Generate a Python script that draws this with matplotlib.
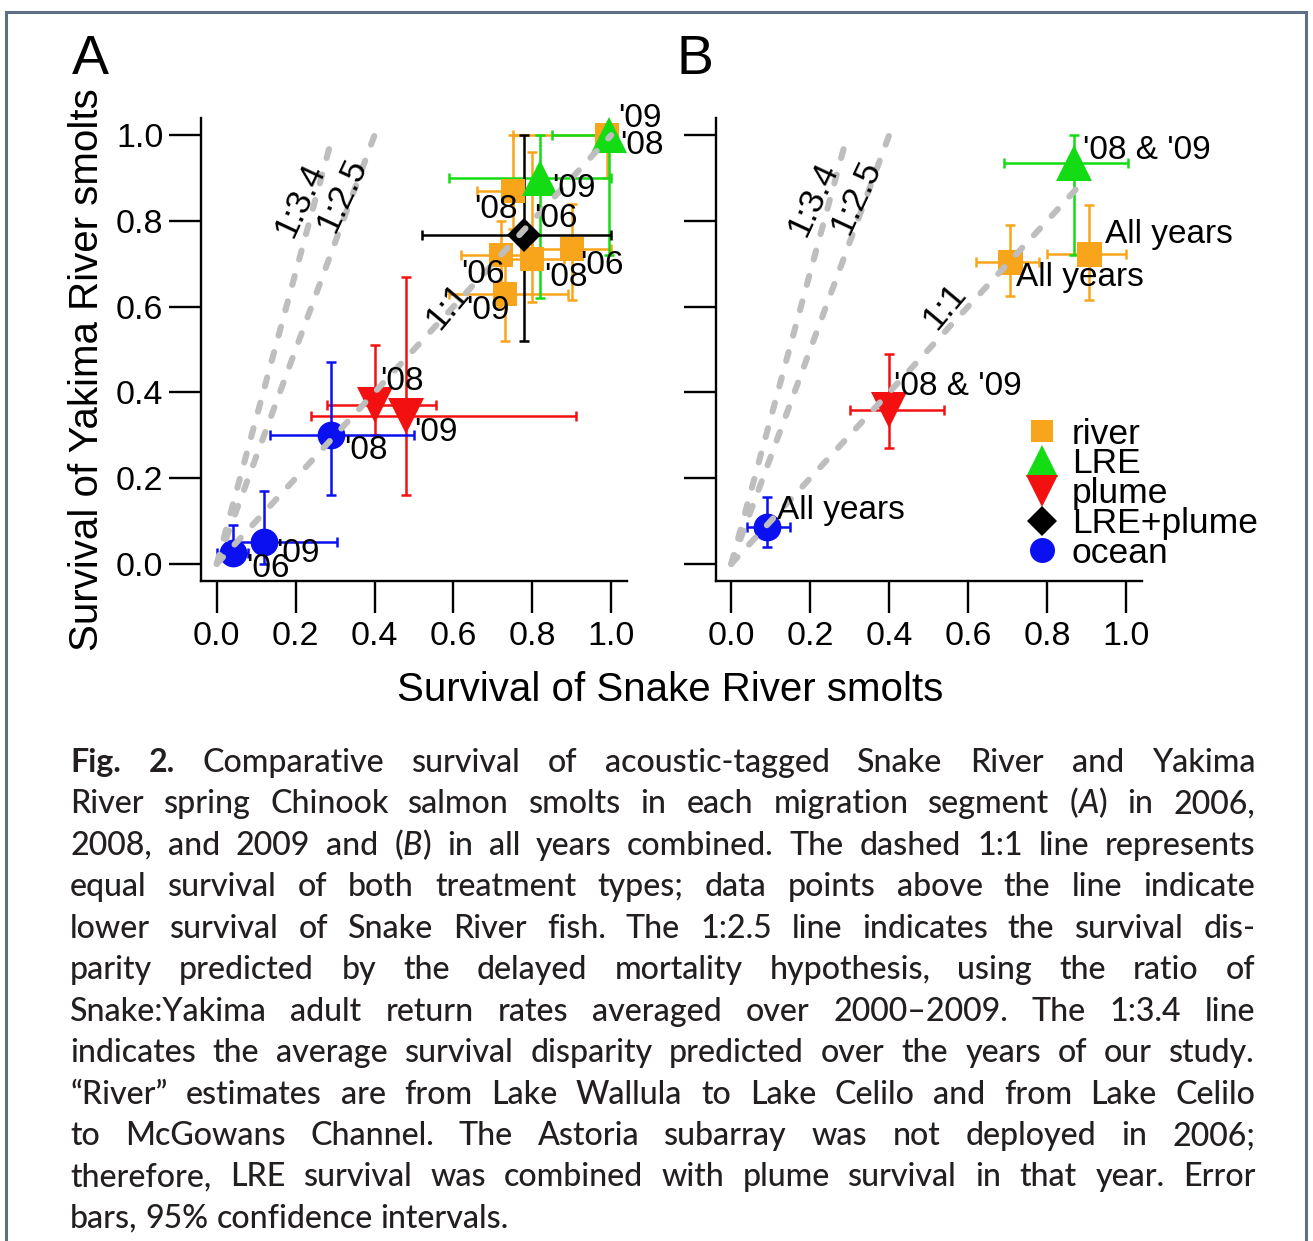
import re
import numpy as np
import matplotlib
matplotlib.use("Agg")
import matplotlib.pyplot as plt
from matplotlib.patches import Rectangle

# ---- values ----
ticks = [0.0, 0.2, 0.4, 0.6, 0.8, 1.0]
tick_labels = ["0.0", "0.2", "0.4", "0.6", "0.8", "1.0"]

# panel A, one point per year (and segment)
a_river_lbl = ["'08", "'06", "'08", "'06", "'09", "'09"]
a_river_x = [0.75, 0.72, 0.80, 0.90, 0.73, 0.99]
a_river_y = [0.87, 0.72, 0.71, 0.735, 0.63, 1.00]
a_river_xlo = [0.66, 0.62, 0.70, 0.80, 0.59, 0.75]
a_river_xhi = [0.82, 0.80, 0.88, 1.00, 0.89, 1.00]
a_river_ylo = [0.78, 0.60, 0.61, 0.615, 0.52, 0.90]
a_river_yhi = [1.00, 0.80, 0.96, 0.84, 0.74, 1.00]

a_lre_lbl = ["'09", "'08"]
a_lre_x = [0.82, 0.995]
a_lre_y = [0.90, 1.00]
a_lre_xlo = [0.59, 0.85]
a_lre_xhi = [1.00, 1.00]
a_lre_ylo = [0.62, 0.72]
a_lre_yhi = [1.00, 1.00]

a_lp_lbl = ["'06"]
a_lp_x = [0.78]
a_lp_y = [0.767]
a_lp_xlo = [0.52]
a_lp_xhi = [1.00]
a_lp_ylo = [0.52]
a_lp_yhi = [1.00]

a_plume_lbl = ["'08", "'09"]
a_plume_x = [0.40, 0.48]
a_plume_y = [0.37, 0.345]
a_plume_xlo = [0.28, 0.24]
a_plume_xhi = [0.555, 0.91]
a_plume_ylo = [0.30, 0.16]
a_plume_yhi = [0.51, 0.67]

a_ocean_lbl = ["'08", "'06", "'09"]
a_ocean_x = [0.29, 0.04, 0.12]
a_ocean_y = [0.30, 0.025, 0.05]
a_ocean_xlo = [0.135, 0.00, 0.06]
a_ocean_xhi = [0.50, 0.08, 0.305]
a_ocean_ylo = [0.16, 0.00, 0.00]
a_ocean_yhi = [0.47, 0.09, 0.17]

# panel B, all years combined
b_river_lbl = ["All years", "All years"]
b_river_x = [0.707, 0.906]
b_river_y = [0.704, 0.723]
b_river_xlo = [0.62, 0.80]
b_river_xhi = [0.78, 1.00]
b_river_ylo = [0.625, 0.615]
b_river_yhi = [0.79, 0.837]

b_lre_lbl = ["'08 & '09"]
b_lre_x = [0.868]
b_lre_y = [0.935]
b_lre_xlo = [0.69]
b_lre_xhi = [1.005]
b_lre_ylo = [0.72]
b_lre_yhi = [1.00]

b_plume_lbl = ["'08 & '09"]
b_plume_x = [0.40]
b_plume_y = [0.36]
b_plume_xlo = [0.30]
b_plume_xhi = [0.54]
b_plume_ylo = [0.27]
b_plume_yhi = [0.49]

b_ocean_lbl = ["All years"]
b_ocean_x = [0.09]
b_ocean_y = [0.085]
b_ocean_xlo = [0.04]
b_ocean_xhi = [0.15]
b_ocean_ylo = [0.04]
b_ocean_yhi = [0.155]

ratios = [3.4, 2.5, 1.0]
ratio_names = ["1:3.4", "1:2.5", "1:1"]

caption_lines = [
    "**Fig.** **2.** Comparative survival of acoustic-tagged Snake River and Yakima",
    "River spring Chinook salmon smolts in each migration segment (_A_) in 2006,",
    "2008, and 2009 and (_B_) in all years combined. The dashed 1:1 line represents",
    "equal survival of both treatment types; data points above the line indicate",
    "lower survival of Snake River fish. The 1:2.5 line indicates the survival dis-",
    "parity predicted by the delayed mortality hypothesis, using the ratio of",
    "Snake:Yakima adult return rates averaged over 2000–2009. The 1:3.4 line",
    "indicates the average survival disparity predicted over the years of our study.",
    "“River” estimates are from Lake Wallula to Lake Celilo and from Lake Celilo",
    "to McGowans Channel. The Astoria subarray was not deployed in 2006;",
    "therefore, LRE survival was combined with plume survival in that year. Error",
    "bars, 95% confidence intervals.",
]

# ---- styles / layout ----
ORANGE, GREEN, RED, BLUE, GREY = "#F8A51C", "#14DC14", "#F21010", "#0A10F0", "#BEBEBE"
W, H = 1313, 1241
PT = 0.72  # points per pixel at dpi 100

plt.rcParams["font.family"] = ["Liberation Sans", "DejaVu Sans"]
fig = plt.figure(figsize=(W / 100, H / 100), dpi=100)


def px_axes(x0, y0, x1, y1):
    return fig.add_axes((x0 / W, 1 - y1 / H, (x1 - x0) / W, (y1 - y0) / H))


axA = px_axes(201, 118, 627, 581)
axB = px_axes(715.5, 118, 1141.7, 581)

for ax in (axA, axB):
    ax.set_xlim(-0.04, 1.04)
    ax.set_ylim(-0.04, 1.04)
    ax.spines[["top", "right"]].set_visible(False)
    ax.spines[["left", "bottom"]].set_linewidth(1.7)
    ax.set_xticks(ticks, tick_labels)
    ax.set_yticks(ticks, tick_labels)
    ax.tick_params(length=23, width=1.7, labelsize=24.5)
    ax.tick_params(axis="x", pad=6)
    ax.tick_params(axis="y", pad=4)
axB.set_yticklabels([])


def series(ax, x, y, xlo, xhi, ylo, yhi, color, marker, ms, name):
    x, y = np.asarray(x), np.asarray(y)
    ax.errorbar(x, y, xerr=[x - np.asarray(xlo), np.asarray(xhi) - x],
                yerr=[y - np.asarray(ylo), np.asarray(yhi) - y],
                fmt="none", ecolor=color, elinewidth=1.8, capsize=3.5,
                capthick=1.8, zorder=2)
    h, = ax.plot(x, y, ls="none", marker=marker, ms=ms, color=color, mec=color,
                 mew=0, zorder=3, clip_on=False, label=name)
    return h


def year_labels(ax, x, y, labels, offs, ha="center"):
    for xi, yi, s, (dx, dy) in zip(x, y, labels, offs):
        ax.annotate(s, (xi, yi), xytext=(dx * PT, dy * PT), textcoords="offset points",
                    ha=ha, va="center", fontsize=24, zorder=6, annotation_clip=False)


def ref_lines(ax, top, label_xy, label_rot):
    for r, name, t, (lx, ly), rot in zip(ratios, ratio_names, top, label_xy, label_rot):
        xe = t / r
        ax.plot([0, xe], [0, r * xe], color=GREY, lw=4.4, dashes=(1.5, 2.8),
                dash_capstyle="round", zorder=4)
        ax.text(lx, ly, name, rotation=rot, ha="center", va="center",
                fontsize=25, rotation_mode="anchor", zorder=6)


# panel A
h_river = series(axA, a_river_x, a_river_y, a_river_xlo, a_river_xhi, a_river_ylo, a_river_yhi, ORANGE, "s", 17, "river")
h_lre = series(axA, a_lre_x, a_lre_y, a_lre_xlo, a_lre_xhi, a_lre_ylo, a_lre_yhi, GREEN, "^", 26, "LRE")
h_lp = series(axA, a_lp_x, a_lp_y, a_lp_xlo, a_lp_xhi, a_lp_ylo, a_lp_yhi, "black", "D", 17, "LRE+plume")
h_plume = series(axA, a_plume_x, a_plume_y, a_plume_xlo, a_plume_xhi, a_plume_ylo, a_plume_yhi, RED, "v", 26, "plume")
h_ocean = series(axA, a_ocean_x, a_ocean_y, a_ocean_xlo, a_ocean_xhi, a_ocean_ylo, a_ocean_yhi, BLUE, "o", 20, "ocean")

ref_lines(axA, [1.0, 1.0, 1.0], [(0.211, 0.849), (0.317, 0.86), (0.586, 0.601)], [65, 65, 50])

year_labels(axA, a_river_x, a_river_y, a_river_lbl,
            [(-17, -19), (-18, -19), (34, -18), (30, -17), (-17, -17), (33, 17)])
year_labels(axA, a_lre_x, a_lre_y, a_lre_lbl, [(34, -10), (33, -10)])
year_labels(axA, a_lp_x, a_lp_y, a_lp_lbl, [(31, 17)])
year_labels(axA, a_plume_x, a_plume_y, a_plume_lbl, [(27, 24), (30, -17)])
year_labels(axA, a_ocean_x, a_ocean_y, a_ocean_lbl, [(35, -15), (35, -15), (34, -11)])

# panel B
series(axB, b_river_x, b_river_y, b_river_xlo, b_river_xhi, b_river_ylo, b_river_yhi, ORANGE, "s", 18, "river")
series(axB, b_lre_x, b_lre_y, b_lre_xlo, b_lre_xhi, b_lre_ylo, b_lre_yhi, GREEN, "^", 26, "LRE")
series(axB, b_plume_x, b_plume_y, b_plume_xlo, b_plume_xhi, b_plume_ylo, b_plume_yhi, RED, "v", 26, "plume")
series(axB, b_ocean_x, b_ocean_y, b_ocean_xlo, b_ocean_xhi, b_ocean_ylo, b_ocean_yhi, BLUE, "o", 20, "ocean")

ref_lines(axB, [1.0, 1.0, 0.9], [(0.206, 0.85), (0.317, 0.855), (0.54, 0.60)], [65, 65, 50])

year_labels(axB, b_river_x, b_river_y, b_river_lbl, [(6, -15), (16, 19)], ha="left")
year_labels(axB, b_lre_x, b_lre_y, b_lre_lbl, [(9, 13)], ha="left")
year_labels(axB, b_plume_x, b_plume_y, b_plume_lbl, [(5, 23)], ha="left")
year_labels(axB, b_ocean_x, b_ocean_y, b_ocean_lbl, [(10, 17)], ha="left")

axB.legend(handles=[h_river, h_lre, h_plume, h_lp, h_ocean], loc="upper left",
           bbox_to_anchor=(0.724, 0.353), frameon=False, fontsize=25.5, markerscale=0.9,
           handlelength=1.0, handletextpad=0.35, labelspacing=-0.09, borderpad=0,
           borderaxespad=0)

# panel letters and shared axis titles
fig.text(90 / W, 1 - 60 / H, "A", fontsize=40, ha="center", va="center")
fig.text(695 / W, 1 - 60 / H, "B", fontsize=40, ha="center", va="center")
fig.text(87 / W, 1 - 370 / H, "Survival of Yakima River smolts", rotation=90,
         fontsize=29, ha="center", va="center")
fig.text(670 / W, 1 - 690 / H, "Survival of Snake River smolts",
         fontsize=29, ha="center", va="center")

# ---- caption, justified like the printed page ----
CAP_FONT = ["Lato", "DejaVu Sans"]
renderer = fig.canvas.get_renderer()


def parse(word):
    bold = word.startswith("**")
    w = word.strip("*")
    segs = []
    for part in re.split(r"(_[^_]+_)", w):
        if part:
            segs.append((part.strip("_"), "italic" if part.startswith("_") else "normal"))
    return ("bold" if bold else "medium"), segs


def text_w(s, size, weight, style):
    t = fig.text(0, 0, s, fontsize=size, family=CAP_FONT, weight=weight, style=style)
    w = t.get_window_extent(renderer).width
    t.remove()
    return w


base = 21
space = text_w("a a", base, "medium", "normal") - text_w("aa", base, "medium", "normal")
lines = []
for line in caption_lines:
    words = []
    for w in line.split():
        weight, segs = parse(w)
        widths = [text_w(s, base, weight, st) for s, st in segs]
        words.append((weight, segs, widths))
    lines.append(words)

x_left, x_right = 70, 1255
target = x_right - x_left
natural = [sum(sum(wd[2]) for wd in ln) + space * 0.6 * (len(ln) - 1) for ln in lines]
k = min(1.1, target / max(natural))
size = base * k

for i, ln in enumerate(lines):
    baseline = 772 + 41.45 * i
    total = sum(sum(wd[2]) for wd in ln) * k
    last = i == len(lines) - 1
    gap = space * k if last else (target - total) / (len(ln) - 1)
    x = x_left
    for j, (weight, segs, widths) in enumerate(ln):
        for (s, st), wdt in zip(segs, widths):
            fig.text(x / W, 1 - baseline / H, s, fontsize=size, family=CAP_FONT,
                     weight=weight, style=st, color="#231F20", va="baseline", ha="left")
            x += wdt * k
        x += gap

# page frame
fig.add_artist(Rectangle((6 / W, -0.01), 1300 / W, (H - 12) / H + 0.01,
                         transform=fig.transFigure, fill=False, ec="#5d6f85", lw=2.2))

fig.savefig("out.png", dpi=100)
